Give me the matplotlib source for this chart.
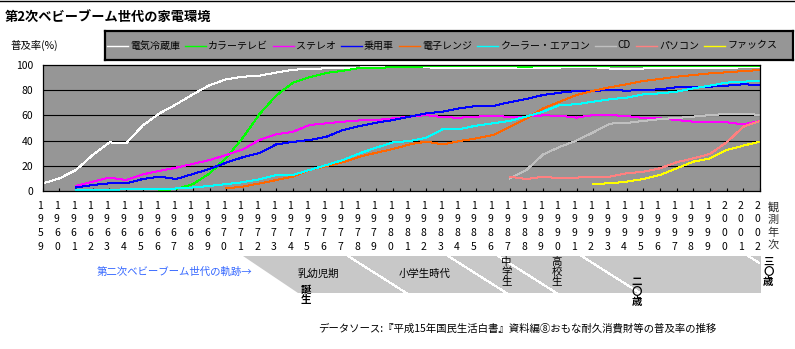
import numpy as np
import matplotlib
matplotlib.use('Agg')
import matplotlib.pyplot as plt
import matplotlib.transforms as mtransforms
from matplotlib.patches import Polygon
from matplotlib.lines import Line2D

plt.rcParams['font.family'] = ['Noto Sans CJK JP', 'DejaVu Sans']

# observation years on the x axis
years = np.arange(1959, 2003)

# ownership rate (%) per year, each list starts at its first survey year
fridge_start = 1959
fridge = [6, 10, 16.7, 28.6, 38.6, 37.8, 52, 61.6, 68.8, 76.7,
          84, 88.6, 90.7, 91.5, 94, 96.3, 96.8, 97.4, 98, 98,
          98.2, 98.2, 98.2, 98.2, 97.5, 97.5, 97.5, 97.5, 97.8, 98,
          98, 98, 98.7, 98.3, 97.2, 97.2, 97.2, 98, 98, 98,
          98, 97.5, 98.3, 98.3]

color_tv_start = 1966
color_tv = [0.3, 1.6, 5.4, 13.9, 26.3, 42.3, 61.1, 75.8, 85.9, 90.3,
            93.7, 95.4, 97.7, 97.8, 98.2, 98.5, 98.9, 99.2, 99.2, 99.1,
            99.0, 98.9, 98.7, 99.0, 99.3, 99.4, 99.3, 99.0, 98.9, 98.9,
            98.9, 99.0, 99.2, 99.0, 99.0, 99.3, 99.3]

stereo_start = 1961
stereo = [4, 7.4, 10.6, 8.7, 13.2, 15.9, 18.5, 21.5, 24.6, 28.5,
          33, 40.5, 45, 47, 52.4, 53.7, 55, 56, 56.3, 57.7,
          59, 60.3, 58.5, 58.2, 59, 59.8, 58.7, 59, 60, 59.8,
          58.2, 60.3, 60.3, 59.5, 58, 57.7, 56.3, 55, 55, 54.5,
          52.9, 55.6]

car_start = 1961
car = [2.8, 4.8, 6.1, 6.1, 9.5, 11.4, 9.5, 13.5, 17.5, 22.5,
       26.8, 30.1, 37, 39, 40.5, 43, 48.4, 51.6, 54.2, 56.3,
       59, 61.6, 63, 65.6, 67.5, 67.5, 70.5, 73, 76.2, 78,
       79.4, 79.4, 80.2, 79.6, 80.2, 80.7, 82.3, 82.8, 82.8, 83.6,
       84.7, 84.1]

microwave_start = 1970
microwave = [2.1, 3.5, 6, 8.7, 11.4, 16.7, 19.8, 22.8, 27.2, 30.4,
             33.3, 37, 39.2, 37, 39.7, 41.8, 44.4, 51, 57.5, 65.6,
             70.9, 76.2, 79.6, 82.3, 84.7, 87.3, 88.9, 90.7, 92, 93.4,
             94.2, 95.2, 96]

aircon_start = 1961
aircon = [0.4, 0.7, 1.0, 1.3, 1.3, 1.3, 2.0, 2.8, 4.0, 5.5,
          7.0, 9.3, 12.7, 12.7, 16.7, 20.6, 24.6, 29.9, 34.4, 38.6,
          39.7, 42.3, 49.2, 49.2, 51.9, 53.7, 55.6, 59.2, 63, 68.3,
          68.8, 70.9, 72.8, 74.1, 76.7, 77.5, 78.8, 81.5, 83.6, 86,
          86.8, 87.3]

cd_start = 1987
cd = [10, 16.7, 29, 35, 40, 46.5, 53.5, 54, 55.6, 57,
      58, 59, 60.3, 61.1, 61.5, 60.3]

pc_start = 1987
pc = [11.4, 9.5, 11.4, 10, 10.6, 11.4, 11.4, 14, 15.3, 18,
      22.8, 25.9, 29.4, 38.6, 51, 55.6]

fax_start = 1992
fax = [5.6, 6.1, 7.4, 9.5, 12.7, 18, 23.3, 25.9, 32.5, 36, 39.2]

labels = ['電気冷蔵庫', 'カラーテレビ', 'ステレオ', '乗用車', '電子レンジ',
          'クーラー・エアコン', 'CD', 'パソコン', 'ファックス']
colors = ['#ffffff', '#00ff00', '#ff00ff', '#0000ff', '#ff6600',
          '#00ffff', '#c0c0c0', '#ff8080', '#ffff00']
series = [(fridge_start, fridge), (color_tv_start, color_tv),
          (stereo_start, stereo), (car_start, car),
          (microwave_start, microwave), (aircon_start, aircon),
          (cd_start, cd), (pc_start, pc), (fax_start, fax)]

# the generation born 1971-74 and the ages where its life stages change
boom_first, boom_last = 1971, 1974
stage_ages = [6, 12, 15, 20, 30]

W, H = 795, 349
fig = plt.figure(figsize=(W / 100, H / 100), dpi=100)
fig.patch.set_facecolor('white')

def px(x, y):
    return x / W, 1 - y / H

fig.add_artist(Line2D([0, 1], [1 - 0.5 / H, 1 - 0.5 / H], color='black', lw=1))
fig.text(*px(5, 18), '第2次ベビーブーム世代の家電環境', fontsize=9.5,
         fontweight='bold', va='center')
fig.text(*px(10, 45), '普及率(%)', fontsize=7.5, va='center')

# main chart
left, right, top, bottom = 42.7, 760, 65, 191
ax = fig.add_axes([left / W, 1 - bottom / H, (right - left) / W, (bottom - top) / H])
ax.set_facecolor('#969696')
ax.set_xlim(years[0], years[-1])
ax.set_ylim(0, 100)
for v in [20, 40, 60, 80]:
    ax.axhline(v, color='black', lw=0.8, zorder=1)
for (start, vals), color in zip(series, colors):
    x = np.arange(start, start + len(vals))
    ax.plot(x, vals, color=color, lw=0.72, antialiased=False, zorder=2)
for s in ax.spines.values():
    s.set_linewidth(0.9)
ax.set_yticks([0, 20, 40, 60, 80, 100])
ax.tick_params(axis='y', length=0, pad=7, labelsize=7.5)
ax.set_xticks(years)
ax.set_xticklabels([])
ax.tick_params(axis='x', direction='in', length=2.5, width=0.8)

# vertical year labels under the axis, one digit per row
trans = mtransforms.blended_transform_factory(ax.transData, fig.transFigure)
digit_rows = [206, 219.5, 233, 247.5]
for yr in years:
    for ch, ry in zip(str(yr), digit_rows):
        ax.text(yr - 0.15, 1 - ry / H, ch, transform=trans, fontsize=7.5,
                ha='center', va='center', clip_on=False)
for ch, ry in zip('観測年次', [207, 220, 233, 246]):
    fig.text(*px(773, ry), ch, fontsize=8, ha='center', va='center',
             color='#303030')

# legend box across the top
leg = fig.add_axes([105 / W, 1 - 60 / H, 688 / W, 29 / H])
leg.set_facecolor('#969696')
leg.set_xlim(0, 688)
leg.set_ylim(0, 29)
leg.set_xticks([])
leg.set_yticks([])
for s in leg.spines.values():
    s.set_linewidth(1.6)
renderer = fig.canvas.get_renderer()
lx = 2
for name, color in zip(labels, colors):
    leg.plot([lx, lx + 21], [14.5, 14.5], color=color, lw=1)
    t = leg.text(lx + 23, 14.5, name, fontsize=7.2, va='center', clip_on=True)
    lx += 23 + t.get_window_extent(renderer).width + 5

# life stages of the baby boom generation
band = fig.add_axes([left / W, 1 - 293 / H, (right - left) / W, 37 / H])
band.set_xlim(years[0], years[-1])
band.set_ylim(0, 1)
band.axis('off')
poly = Polygon([(boom_first, 1), (years[-1] + 0.05, 1), (years[-1] + 0.05, 0),
                (boom_last + 0.3, 0)], closed=True, facecolor='#c8c8c8',
               edgecolor='none', clip_on=False)
band.add_patch(poly)
for age in stage_ages:
    x0 = boom_first + age + 0.3
    ln = band.plot([x0, x0 + 3.5], [1, 0], color='white', lw=0.72,
                   antialiased=False)[0]
    ln.set_clip_path(poly)

def band_text(x, y, s, **kw):
    band.text(x, (293 - y) / 37, s, fontsize=7.5, clip_on=False, **kw)

band_text(1975.5, 274, '乳幼児期', ha='center', va='center')
band_text(1981.9, 274, '小学生時代', ha='center', va='center')
band_text(boom_first + 3.8, 285, '誕\n生', ha='center', va='top',
          linespacing=1.0, fontweight='bold')
band_text(boom_first + 15.8, 257, '中\n学\n生', ha='center', va='top', linespacing=1.0)
band_text(boom_first + 18.8, 257, '高\n校\n生', ha='center', va='top', linespacing=1.0)
band_text(boom_first + 23.6, 277, '二\n〇\n歳', ha='center', va='top',
          linespacing=1.0, fontweight='bold')
band_text(boom_first + 31.5, 257, '三\n〇\n歳', ha='center', va='top',
          linespacing=1.0, fontweight='bold')

fig.text(*px(97, 272), '第二次ベビーブーム世代の軌跡→', fontsize=7.5,
         color='#3366ff', va='center')
fig.text(*px(318, 328),
         'データソース:『平成15年国民生活白書』資料編⑧おもな耐久消費財等の普及率の推移',
         fontsize=7.5, va='center')

fig.savefig('out.png', dpi=100)
